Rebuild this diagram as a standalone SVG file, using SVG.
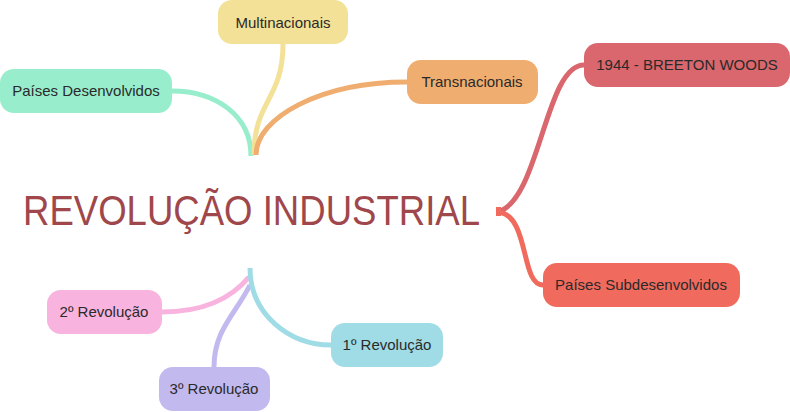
<svg xmlns="http://www.w3.org/2000/svg" width="790" height="412" viewBox="0 0 790 412">
<style>
.lbl{font-family:"Liberation Sans",Arial,sans-serif;font-size:15px;fill:#2a2a2a;text-anchor:middle}
.title{font-family:"Liberation Sans",Arial,sans-serif;font-size:42px;fill:#a0474c}
.c{fill:none;stroke-width:5;stroke-linecap:butt}
</style>
<rect width="790" height="412" fill="#ffffff"/>
<g id="connectors">
<path class="c" d="M172,91 C215,91 251,115 251,156" stroke="#98eecc" stroke-width="6"/>
<path class="c" d="M283,44 C283,100 254,100 254,155" stroke="#f2e196"/>
<path class="c" d="M407,82 C320,82 256,118 256,155" stroke="#f0ad70"/>
<path class="c" d="M250,285 C235,315 214,330 214,367" stroke="#c2b9ee"/>
<path class="c" d="M249,277 C230,300 200,312 162,312" stroke="#f8b3de"/>
<path class="c" d="M250,268 C250,315 290,345 331,345" stroke="#a0dce5" stroke-width="6"/>
<path class="c" d="M498,212 C540,200 545,65 584,65" stroke="#d9676d"/>
<path class="c" d="M498,212 C530,215 520,285 543,285" stroke="#f06b5e"/>
<rect x="496" y="207" width="5" height="9" fill="#f06b5e"/>
</g>
<g id="root"><text class="title" x="23" y="225" textLength="457" lengthAdjust="spacingAndGlyphs">REVOLUÇÃO INDUSTRIAL</text></g>
<g id="n-multinacionais"><rect x="218" y="0" width="130" height="44" rx="14" fill="#f2e196"/><text class="lbl" x="283" y="28">Multinacionais</text></g>
<g id="n-desenvolvidos"><rect x="0" y="69" width="172" height="44" rx="14" fill="#98eecc"/><text class="lbl" x="86" y="96">Países Desenvolvidos</text></g>
<g id="n-transnacionais"><rect x="407" y="60" width="131" height="44" rx="14" fill="#f0ad70"/><text class="lbl" x="472" y="87">Transnacionais</text></g>
<g id="n-breeton"><rect x="584" y="43" width="206" height="44" rx="14" fill="#d9676d"/><text class="lbl" x="687" y="70">1944 - BREETON WOODS</text></g>
<g id="n-subdesenvolvidos"><rect x="543" y="263" width="197" height="44" rx="14" fill="#f06b5e"/><text class="lbl" x="641" y="290">Países Subdesenvolvidos</text></g>
<g id="n-2rev"><rect x="47" y="290" width="115" height="44" rx="14" fill="#f8b3de"/><text class="lbl" x="104" y="317">2º Revolução</text></g>
<g id="n-1rev"><rect x="331" y="323" width="112" height="44" rx="14" fill="#a0dce5"/><text class="lbl" x="387" y="350">1º Revolução</text></g>
<g id="n-3rev"><rect x="159" y="367" width="111" height="44" rx="14" fill="#c2b9ee"/><text class="lbl" x="214" y="394">3º Revolução</text></g>
</svg>
